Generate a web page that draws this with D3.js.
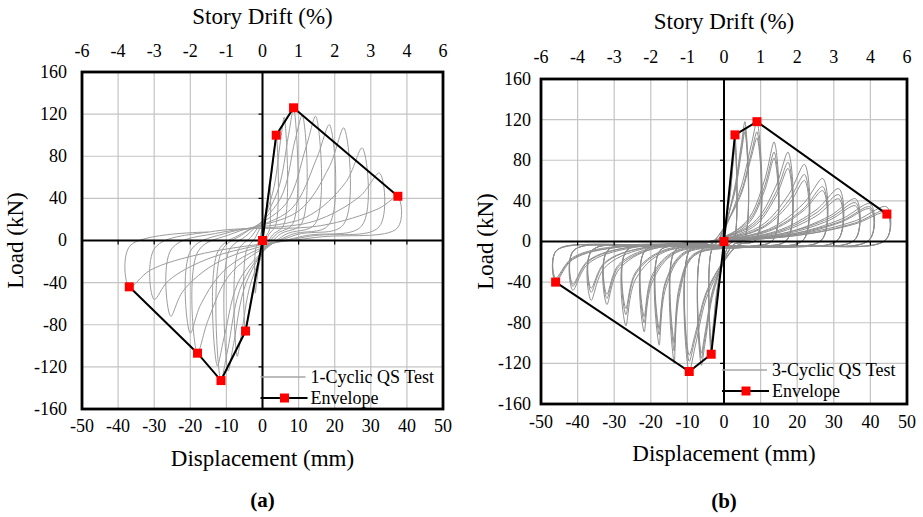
<!DOCTYPE html>
<html>
<head>
<meta charset="utf-8">
<script src="https://cdn.jsdelivr.net/npm/d3@7"></script>
<style>
  body { margin: 0; background: #fff; }
  svg { display: block; }
</style>
</head>
<body>
<div id="chart"></div>
<script>
// axis ticks
const dispTicks = [-50, -40, -30, -20, -10, 0, 10, 20, 30, 40, 50];
const loadTicks = [-160, -120, -80, -40, 0, 40, 80, 120, 160];
const driftLabels = ["-6", "-4", "-3", "-2", "-1", "0", "1", "2", "3", "4", "6"];

// envelope points [displacement mm, load kN]
const envelopeA = [[-36.9, -44], [-18, -107], [-11.5, -133], [-4.7, -86], [0, 0], [3.8, 100], [8.6, 126], [37.5, 42]];
const envelopeB = [[-46, -40], [-9.5, -128], [-3.5, -111], [0, 0], [3, 105], [9, 118], [44.5, 27]];

// 1-cyclic test, one row per cycle
const cyclesA = [
  [[1, 28], [1.7, 48], [2, 55], [1.9, 10], [0.8, 3], [-1, -24], [-1.7, -42], [-2, -50], [-1.9, -8], [-0.8, 2]],
  [[1.8, 45], [3.2, 85], [3.8, 100], [3.7, 15], [1.5, 4], [-2.2, -38], [-4, -72], [-4.7, -86], [-4.5, -10], [-1.8, 4]],
  [[2.8, 45], [5, 95], [6, 117], [5.9, 15], [2.5, 4], [-3.2, -40], [-5.8, -88], [-7, -110], [-6.8, -10], [-2.8, 5]],
  [[4, 45], [7.2, 100], [8.6, 126], [8.4, 16], [3.5, 5], [-4.5, -40], [-8, -98], [-9.5, -124], [-9.3, -10], [-4, 6]],
  [[5, 40], [9, 95], [11, 119], [10.8, 16], [4.5, 5], [-5.5, -40], [-9.7, -105], [-11.5, -133], [-11.3, -10], [-5, 7]],
  [[6.5, 35], [12, 88], [14.7, 118], [14.6, 16], [6, 5], [-6, -35], [-10.5, -90], [-12.5, -119], [-12.3, -10], [-5.5, 7]],
  [[8, 30], [15, 78], [18.5, 110], [18.4, 15], [7.5, 5], [-8.5, -30], [-15, -75], [-18, -107], [-17.8, -10], [-8, 7]],
  [[10, 28], [18.5, 70], [22.5, 107], [22.4, 15], [9, 5], [-9.5, -25], [-17, -60], [-20, -88], [-19.8, -9], [-9, 8]],
  [[12, 22], [23, 55], [27.6, 88], [27.5, 14], [11, 4], [-12, -20], [-22, -48], [-25.4, -72], [-25.2, -8], [-11, 8]],
  [[14, 18], [27, 42], [32.4, 64], [32.3, 13], [13, 4], [-14, -16], [-26, -38], [-30, -56], [-29.8, -7], [-13, 9]],
  [[16, 14], [32, 30], [37.5, 41], [37.4, 12], [15, 3], [-16, -12], [-31, -28], [-36.9, -44], [-36.7, -5], [-15, 8]]
];

// 3-cyclic test, three rows per amplitude
const cyclesB = [
  [[1.35, 42], [2.46, 84], [3, 105], [2.8, 2], [1.2, -4], [-1.58, -44], [-2.87, -89], [-3.5, -111], [-3.3, -8], [-1.4, -3]],
  [[1.35, 39], [2.46, 78], [3, 98], [2.8, 2], [1.2, -4], [-1.58, -42], [-2.87, -83], [-3.5, -104], [-3.3, -8], [-1.4, -3]],
  [[1.35, 38], [2.46, 76], [3, 95], [2.8, 2], [1.2, -4], [-1.58, -40], [-2.87, -80], [-3.5, -100], [-3.3, -8], [-1.4, -3]],
  [[2.57, 47], [4.67, 94], [5.7, 118], [5.5, 2], [2.28, -4], [-2.79, -49], [-5.08, -98], [-6.2, -122], [-6, -8], [-2.48, -3]],
  [[2.57, 45], [4.67, 90], [5.7, 112], [5.5, 2], [2.28, -4], [-2.79, -46], [-5.08, -92], [-6.2, -115], [-6, -8], [-2.48, -3]],
  [[2.57, 43], [4.67, 86], [5.7, 108], [5.5, 2], [2.28, -4], [-2.79, -44], [-5.08, -88], [-6.2, -110], [-6, -8], [-2.48, -3]],
  [[4.05, 47], [7.38, 94], [9, 118], [8.8, 2], [3.6, -4], [-4.28, -51], [-7.79, -102], [-9.5, -128], [-9.3, -8], [-3.8, -3]],
  [[4.05, 43], [7.38, 86], [9, 108], [8.8, 2], [3.6, -4], [-4.28, -47], [-7.79, -94], [-9.5, -118], [-9.3, -8], [-3.8, -3]],
  [[4.05, 41], [7.38, 82], [9, 102], [8.8, 2], [3.6, -4], [-4.28, -45], [-7.79, -90], [-9.5, -112], [-9.3, -8], [-3.8, -3]],
  [[6.17, 20], [10.96, 59], [13.7, 98], [13.5, 2], [6.85, -5], [-8.16, -14], [-12.24, -54], [-13.6, -120], [-13.4, -9], [-6.8, -4]],
  [[6.17, 18], [10.96, 53], [13.7, 88], [13.5, 2], [6.85, -5], [-8.16, -13], [-12.24, -49], [-13.6, -108], [-13.4, -9], [-6.8, -4]],
  [[6.17, 16], [10.96, 49], [13.7, 82], [13.5, 2], [6.85, -5], [-8.16, -12], [-12.24, -45], [-13.6, -100], [-13.4, -9], [-6.8, -4]],
  [[7.88, 18], [14, 53], [17.5, 88], [17.3, 2], [8.75, -5], [-10.62, -12], [-15.93, -46], [-17.7, -102], [-17.5, -9], [-8.85, -4]],
  [[7.88, 16], [14, 47], [17.5, 78], [17.3, 2], [8.75, -5], [-10.62, -11], [-15.93, -41], [-17.7, -92], [-17.5, -9], [-8.85, -4]],
  [[7.88, 14], [14, 43], [17.5, 72], [17.3, 2], [8.75, -5], [-10.62, -10], [-15.93, -39], [-17.7, -86], [-17.5, -9], [-8.85, -4]],
  [[9.9, 15], [17.6, 46], [22, 76], [21.8, 2], [11, -5], [-13.08, -11], [-19.62, -40], [-21.8, -89], [-21.6, -9], [-10.9, -4]],
  [[9.9, 13], [17.6, 40], [22, 66], [21.8, 2], [11, -5], [-13.08, -10], [-19.62, -36], [-21.8, -80], [-21.6, -9], [-10.9, -4]],
  [[9.9, 12], [17.6, 36], [22, 60], [21.8, 2], [11, -5], [-13.08, -9], [-19.62, -33], [-21.8, -74], [-21.6, -9], [-10.9, -4]],
  [[12.15, 12], [21.6, 37], [27, 62], [26.8, 2], [13.5, -5], [-16.08, -10], [-24.12, -37], [-26.8, -83], [-26.6, -9], [-13.4, -4]],
  [[12.15, 11], [21.6, 32], [27, 54], [26.8, 2], [13.5, -5], [-16.08, -9], [-24.12, -32], [-26.8, -72], [-26.6, -9], [-13.4, -4]],
  [[12.15, 10], [21.6, 30], [27, 50], [26.8, 2], [13.5, -5], [-16.08, -8], [-24.12, -30], [-26.8, -66], [-26.6, -9], [-13.4, -4]],
  [[14.13, 10], [25.12, 31], [31.4, 52], [31.2, 2], [15.7, -5], [-19.2, -7], [-28.8, -28], [-32, -62], [-31.8, -9], [-16, -4]],
  [[14.13, 9], [25.12, 28], [31.4, 46], [31.2, 2], [15.7, -5], [-19.2, -7], [-28.8, -25], [-32, -56], [-31.8, -9], [-16, -4]],
  [[14.13, 8], [25.12, 25], [31.4, 42], [31.2, 2], [15.7, -5], [-19.2, -6], [-28.8, -23], [-32, -52], [-31.8, -9], [-16, -4]],
  [[16.2, 8], [28.8, 25], [36, 42], [35.8, 2], [18, -5], [-21.78, -7], [-32.67, -26], [-36.3, -58], [-36.1, -9], [-18.15, -4]],
  [[16.2, 8], [28.8, 23], [36, 38], [35.8, 2], [18, -5], [-21.78, -6], [-32.67, -22], [-36.3, -50], [-36.1, -9], [-18.15, -4]],
  [[16.2, 7], [28.8, 21], [36, 35], [35.8, 2], [18, -5], [-21.78, -6], [-32.67, -21], [-36.3, -46], [-36.1, -9], [-18.15, -4]],
  [[18, 7], [32, 22], [40, 37], [39.8, 2], [20, -5], [-24.78, -6], [-37.17, -22], [-41.3, -48], [-41.1, -9], [-20.65, -4]],
  [[18, 7], [32, 20], [40, 34], [39.8, 2], [20, -5], [-24.78, -5], [-37.17, -20], [-41.3, -44], [-41.1, -9], [-20.65, -4]],
  [[18, 6], [32, 19], [40, 32], [39.8, 2], [20, -5], [-24.78, -5], [-37.17, -19], [-41.3, -42], [-41.1, -9], [-20.65, -4]],
  [[20.03, 7], [35.6, 20], [44.5, 34], [44.3, 2], [22.25, -5], [-27.6, -5], [-41.4, -18], [-46, -40], [-45.8, -9], [-23, -4]],
  [[20.03, 6], [35.6, 18], [44.5, 30], [44.3, 2], [22.25, -5], [-27.6, -5], [-41.4, -17], [-46, -38], [-45.8, -9], [-23, -4]],
  [[20.03, 6], [35.6, 17], [44.5, 28], [44.3, 2], [22.25, -5], [-27.6, -4], [-41.4, -16], [-46, -36], [-45.8, -9], [-23, -4]]
];

const W = 923, H = 517;
const FONT = "'Liberation Serif', 'Times New Roman', Times, serif";
const svg = d3.select("#chart").append("svg")
  .attr("width", W)
  .attr("height", H)
  .attr("font-family", FONT);

function drawPanel(o) {
  const g = svg.append("g").attr("transform", `translate(${o.left},${o.top})`);
  const w = o.w, h = o.h;

  const x = d3.scaleLinear().domain([-50, 50]).range([0, w]);
  const y = d3.scaleLinear().domain([-160, 160]).range([h, 0]);
  const xTop = d3.scalePoint().domain(driftLabels).range([0, w]);

  // grid
  g.append("g").selectAll("line").data(dispTicks).join("line")
    .attr("x1", d => x(d)).attr("x2", d => x(d))
    .attr("y1", 0).attr("y2", h)
    .attr("stroke", "#c4c4c4").attr("stroke-width", 1.2);
  g.append("g").selectAll("line").data(loadTicks).join("line")
    .attr("x1", 0).attr("x2", w)
    .attr("y1", d => y(d)).attr("y2", d => y(d))
    .attr("stroke", "#c4c4c4").attr("stroke-width", 1.2);

  // hysteresis loops
  g.append("clipPath").attr("id", "clip" + o.id)
    .append("rect").attr("width", w).attr("height", h);
  const loop = d3.line()
    .x(d => x(d[0])).y(d => y(d[1]))
    .curve(d3.curveCatmullRom.alpha(0.5));
  g.append("path")
    .datum([[0, 0]].concat(o.cycles.flat(1)))
    .attr("clip-path", `url(#clip${o.id})`)
    .attr("d", loop)
    .attr("fill", "none")
    .attr("stroke", o.loopColor)
    .attr("stroke-width", 1);

  // zero axes with small ticks
  g.append("line").attr("x1", 0).attr("x2", w).attr("y1", y(0)).attr("y2", y(0))
    .attr("stroke", "#000").attr("stroke-width", 2);
  g.append("line").attr("x1", x(0)).attr("x2", x(0)).attr("y1", 0).attr("y2", h)
    .attr("stroke", "#000").attr("stroke-width", 2);
  g.append("g").selectAll("line").data(dispTicks).join("line")
    .attr("x1", d => x(d)).attr("x2", d => x(d))
    .attr("y1", y(0)).attr("y2", y(0) + 4)
    .attr("stroke", "#000").attr("stroke-width", 1.2);
  g.append("g").selectAll("line").data(loadTicks).join("line")
    .attr("x1", x(0) - 4).attr("x2", x(0))
    .attr("y1", d => y(d)).attr("y2", d => y(d))
    .attr("stroke", "#000").attr("stroke-width", 1.2);

  // envelope
  g.append("path")
    .datum(o.envelope)
    .attr("d", d3.line().x(d => x(d[0])).y(d => y(d[1])))
    .attr("fill", "none")
    .attr("stroke", "#000")
    .attr("stroke-width", 2);
  g.append("g").selectAll("rect").data(o.envelope).join("rect")
    .attr("x", d => x(d[0]) - 4.5)
    .attr("y", d => y(d[1]) - 4.5)
    .attr("width", 9).attr("height", 9)
    .attr("fill", "#ff0000");

  // frame
  g.append("rect").attr("width", w).attr("height", h)
    .attr("fill", "none").attr("stroke", "#000").attr("stroke-width", 2.8);

  // tick labels
  g.append("g").selectAll("text").data(dispTicks).join("text")
    .attr("x", d => x(d)).attr("y", h + o.bottomPad)
    .attr("text-anchor", "middle").attr("font-size", 18)
    .text(d => String(d));
  g.append("g").selectAll("text").data(loadTicks).join("text")
    .attr("x", -o.leftPad).attr("y", d => y(d)).attr("dy", "0.33em")
    .attr("text-anchor", "end").attr("font-size", 18)
    .text(d => String(d));
  g.append("g").selectAll("text").data(driftLabels).join("text")
    .attr("x", d => xTop(d)).attr("y", -o.topPad)
    .attr("text-anchor", "middle").attr("font-size", 18)
    .text(d => d);

  // axis titles
  g.append("text")
    .attr("x", w / 2).attr("y", o.topTitle)
    .attr("text-anchor", "middle").attr("font-size", 23)
    .text("Story Drift (%)");
  g.append("text")
    .attr("x", w / 2).attr("y", h + 57)
    .attr("text-anchor", "middle").attr("font-size", 23)
    .text("Displacement (mm)");
  g.append("text")
    .attr("transform", `translate(${o.yTitle},${h / 2}) rotate(-90)`)
    .attr("text-anchor", "middle").attr("font-size", 23)
    .text("Load (kN)");
  g.append("text")
    .attr("x", w / 2).attr("y", h + o.panelPad)
    .attr("text-anchor", "middle").attr("font-size", 21).attr("font-weight", "bold")
    .text(o.panel);

  // legend
  const lg = g.append("g").attr("transform", `translate(${x(0) - 2},${o.legendY})`);
  lg.append("line").attr("x1", 0).attr("x2", 45).attr("y1", 0).attr("y2", 0)
    .attr("stroke", "#a6a6a6").attr("stroke-width", 1.5);
  lg.append("text").attr("x", 50).attr("y", 6).attr("font-size", 18).text(o.legendLabel);
  lg.append("line").attr("x1", 0).attr("x2", 47).attr("y1", 21).attr("y2", 21)
    .attr("stroke", "#000").attr("stroke-width", 2);
  lg.append("rect").attr("x", 19.5).attr("y", 16.5).attr("width", 9).attr("height", 9).attr("fill", "#ff0000");
  lg.append("text").attr("x", 50).attr("y", 27).attr("font-size", 18).text("Envelope");
}

drawPanel({
  id: "a", left: 82, top: 72, w: 361, h: 337,
  cycles: cyclesA, envelope: envelopeA, loopColor: "#9d9d9d",
  bottomPad: 23, leftPad: 15, topPad: 15, topTitle: -48, yTitle: -59, panelPad: 98,
  panel: "(a)", legendLabel: "1-Cyclic QS Test", legendY: 305
});

drawPanel({
  id: "b", left: 541, top: 79, w: 366, h: 325,
  cycles: cyclesB, envelope: envelopeB, loopColor: "#8e8e8e",
  bottomPad: 24, leftPad: 10, topPad: 16, topTitle: -50, yTitle: -48, panelPad: 104,
  panel: "(b)", legendLabel: "3-Cyclic QS Test", legendY: 291
});
</script>
</body>
</html>
